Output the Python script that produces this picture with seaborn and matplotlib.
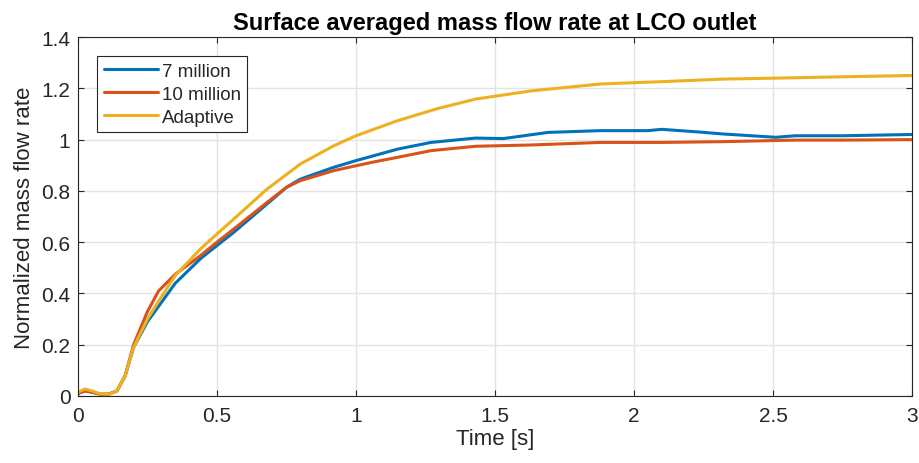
import matplotlib
matplotlib.use("Agg")
import matplotlib.pyplot as plt
import seaborn as sns
import pandas as pd

# Data
t_blue = [0, 0.025, 0.05, 0.08, 0.11, 0.14, 0.17, 0.2, 0.25, 0.29, 0.35, 0.44, 0.5, 0.56, 0.68, 0.75,
          0.8, 0.92, 1.0, 1.15, 1.27, 1.43, 1.53, 1.69, 1.88, 2.05, 2.1, 2.23, 2.32, 2.51, 2.58, 2.75, 3.0]
v_blue = [0.01, 0.02, 0.015, 0.007, 0.007, 0.02, 0.08, 0.19, 0.29, 0.35, 0.44, 0.535, 0.587, 0.638, 0.749, 0.814,
          0.846, 0.892, 0.918, 0.963, 0.989, 1.006, 1.004, 1.028, 1.035, 1.035, 1.04, 1.03, 1.022, 1.009, 1.015, 1.015, 1.02]

t_red = [0, 0.025, 0.05, 0.08, 0.11, 0.14, 0.17, 0.2, 0.25, 0.29, 0.35, 0.44, 0.5, 0.56, 0.68, 0.75,
         0.8, 0.92, 1.0, 1.06, 1.15, 1.27, 1.43, 1.63, 1.88, 2.1, 2.32, 2.58, 2.75, 3.0]
v_red = [0.01, 0.02, 0.015, 0.007, 0.007, 0.02, 0.08, 0.2, 0.33, 0.41, 0.475, 0.547, 0.6, 0.651, 0.755, 0.814,
         0.84, 0.879, 0.898, 0.912, 0.931, 0.957, 0.974, 0.979, 0.989, 0.989, 0.992, 0.998, 0.998, 1.0]

t_yel = [0, 0.025, 0.05, 0.08, 0.11, 0.14, 0.17, 0.2, 0.25, 0.29, 0.35, 0.44, 0.5, 0.56, 0.68, 0.8,
         0.92, 1.0, 1.15, 1.29, 1.43, 1.63, 1.88, 2.1, 2.32, 2.52, 2.75, 3.0]
v_yel = [0.015, 0.027, 0.02, 0.008, 0.006, 0.02, 0.08, 0.19, 0.3, 0.37, 0.47, 0.573, 0.632, 0.69, 0.807, 0.905,
         0.976, 1.015, 1.074, 1.12, 1.158, 1.19, 1.217, 1.226, 1.236, 1.24, 1.245, 1.25]

series_names = ["7 million", "10 million", "Adaptive"]
colors = ["#0072BD", "#D95319", "#EDB120"]
x_ticks = [0, 0.5, 1, 1.5, 2, 2.5, 3]
x_ticklabels = ["0", "0.5", "1", "1.5", "2", "2.5", "3"]
y_ticks = [0, 0.2, 0.4, 0.6, 0.8, 1.0, 1.2, 1.4]
y_ticklabels = ["0", "0.2", "0.4", "0.6", "0.8", "1", "1.2", "1.4"]
title = "Surface averaged mass flow rate at LCO outlet"
xlabel = "Time [s]"
ylabel = "Normalized mass flow rate"

df = pd.concat([
    pd.DataFrame({"t": t_blue, "v": v_blue, "s": series_names[0]}),
    pd.DataFrame({"t": t_red, "v": v_red, "s": series_names[1]}),
    pd.DataFrame({"t": t_yel, "v": v_yel, "s": series_names[2]}),
], ignore_index=True)

sns.set_theme(style="whitegrid")
plt.rcParams["font.family"] = ["Liberation Sans", "DejaVu Sans"]

fig = plt.figure(figsize=(9.2, 4.64), dpi=100)
ax = fig.add_axes([0.0848, 0.1444, 0.9065, 0.7736])

sns.lineplot(data=df, x="t", y="v", hue="s", palette=colors, hue_order=series_names,
             linewidth=2.2, sort=False, estimator=None, ax=ax)

ax.set_xlim(0, 3)
ax.set_ylim(0, 1.4)
ax.set_xticks(x_ticks)
ax.set_xticklabels(x_ticklabels)
ax.set_yticks(y_ticks)
ax.set_yticklabels(y_ticklabels)
ax.grid(True, color="#e3e3e3", linewidth=1.0)
for sp in ax.spines.values():
    sp.set_visible(True)
    sp.set_color("#262626")
    sp.set_linewidth(0.8)
ax.tick_params(axis="both", direction="in", length=4, width=0.8, color="#262626",
               labelsize=15, labelcolor="#262626", top=True, right=True, bottom=True, left=True)
ax.tick_params(axis="x", pad=7)
ax.tick_params(axis="y", pad=5.5)
ax.set_xlabel(xlabel, fontsize=16, color="#262626", labelpad=2.5)
ax.set_ylabel(ylabel, fontsize=16, color="#262626", labelpad=4.5)
ax.set_title(title, fontsize=17, fontweight="bold", color="black", pad=6)

leg = ax.legend(loc="upper left", bbox_to_anchor=(0.0228, 0.947), fontsize=13.5, frameon=True,
                fancybox=False, edgecolor="#262626", framealpha=1, handlelength=2.9,
                borderpad=0.35, labelspacing=0.31, handletextpad=0.2, borderaxespad=0)
leg.get_frame().set_linewidth(0.8)
for line in leg.get_lines():
    line.set_linewidth(2.2)

fig.savefig("out.png", dpi=100)
